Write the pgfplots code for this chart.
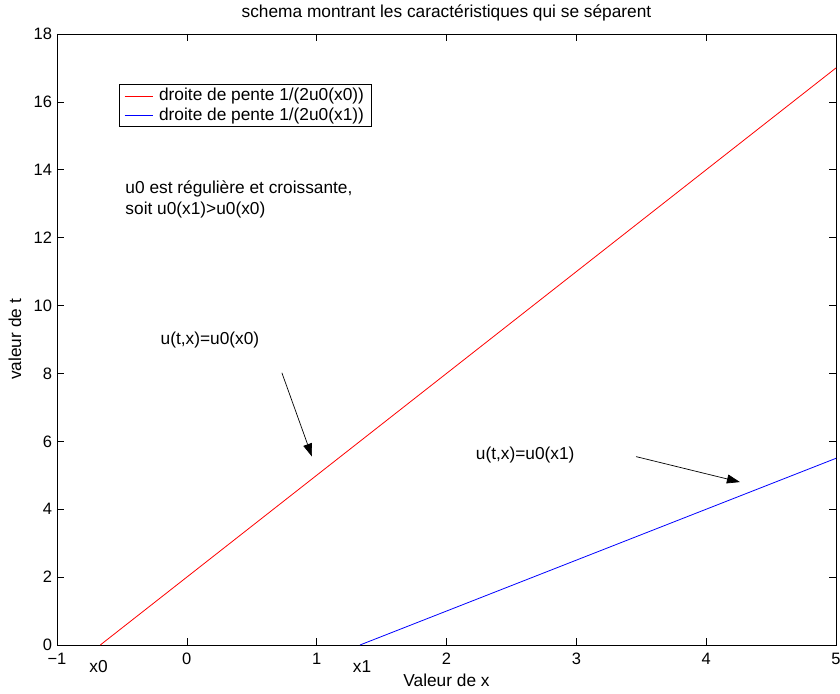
\documentclass[border=0pt]{standalone}
\usepackage{fontspec}
\setmainfont{Liberation Sans}
\usepackage{pgfplots}
\pgfplotsset{compat=1.18}
\usetikzlibrary{arrows.meta}

\begin{document}
\fontsize{17.3bp}{21bp}\selectfont
\begin{tikzpicture}[font=\fontsize{17.3bp}{21bp}\selectfont]
\begin{axis}[
    scale only axis,
    width=779bp, height=611bp,
    xmin=-1, xmax=5, ymin=0, ymax=18,
    xtick={-1,0,...,5}, ytick={0,2,...,18},
    xticklabels={\char"2212 1,0,1,2,3,4,5},
    tick align=inside,
    xtick pos=both, ytick pos=both,
    major tick length=7bp,
    axis line style={line width=0.8bp},
    tick style={black, line width=0.6bp},
    /pgf/number format/assume math mode=true,
    ticklabel style={font=\fontsize{16.5bp}{20bp}\selectfont},
    xticklabel style={yshift=-2bp},
    yticklabel style={xshift=1bp},
    title={schema montrant les caractéristiques qui se séparent},
    title style={at={(axis description cs:0.5,1)}, anchor=base, yshift=11bp},
    xlabel={Valeur de x}, ylabel={valeur de t},
    xlabel style={at={(axis description cs:0.5,0)}, anchor=base, yshift=-41bp},
    ylabel style={at={(axis description cs:-0.054,0.5)}, anchor=center},
    legend style={at={(0.0796,0.918)}, anchor=north west,
        draw=black, line width=0.6bp, inner xsep=5bp, inner ysep=2bp,
        row sep=0bp, nodes={text=black}},
    legend cell align=left,
    clip=false,
]
\addplot[red, line width=0.8bp, forget plot] coordinates {(-0.6667,0) (5,17)};
\addplot[blue, line width=0.8bp, forget plot] coordinates {(1.3333,0) (5,5.5)};
\addlegendimage{legend image code/.code={\draw[draw=red, line width=0.8bp] (0bp,0bp) -- (28bp,0bp);}}
\addlegendentry{\hspace{4bp}droite de pente 1/(2u0(x0))}
\addlegendimage{legend image code/.code={\draw[draw=blue, line width=0.8bp] (0bp,0bp) -- (28bp,0bp);}}
\addlegendentry{\hspace{4bp}droite de pente 1/(2u0(x1))}

\node[anchor=center] at (axis cs:-0.68,0) [yshift=-22bp] {x0};
\node[anchor=center] at (axis cs:1.35,0) [yshift=-22bp] {x1};

\node[anchor=west, align=left, inner sep=0pt] at (axis cs:-0.474,13.13)
    {u0 est régulière et croissante,\\soit u0(x1)>u0(x0)};
\node[anchor=west, inner sep=0pt] at (axis cs:-0.203,8.99) {u(t,x)=u0(x0)};
\node[anchor=west, inner sep=0pt] at (axis cs:2.225,5.6) {u(t,x)=u0(x1)};

\draw[-{Triangle[length=13bp,width=9bp]}, line width=0.7bp]
    (axis cs:0.732,8.02) -- (axis cs:0.964,5.55);
\draw[-{Triangle[length=13bp,width=9bp]}, line width=0.7bp]
    (axis cs:3.46,5.55) -- (axis cs:4.26,4.80);
\end{axis}
\pgfresetboundingbox
\path[use as bounding box] ([xshift=-57bp,yshift=-48bp]current axis.south west)
    rectangle ([xshift=4bp,yshift=34bp]current axis.north east);
\end{tikzpicture}
\end{document}
